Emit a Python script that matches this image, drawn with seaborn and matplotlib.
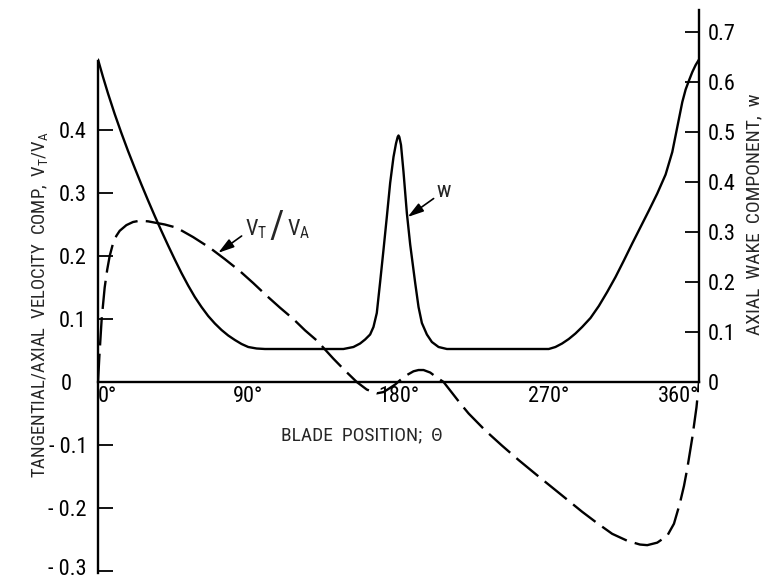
import os
import matplotlib
matplotlib.use("Agg")
import matplotlib.pyplot as plt
import matplotlib.font_manager as fm
import matplotlib.transforms as mtransforms
import seaborn as sns
import pandas as pd

# ---------------- data ----------------
theta_w = [0, 3, 6, 10, 14, 18, 22, 26, 30, 34, 38, 42, 46, 50, 54, 58, 62, 66,
           70, 74, 78, 82, 86, 90, 95, 100,
           147, 153, 157, 160, 163, 165, 167, 169, 171, 173, 175, 177, 178.5,
           179.5, 180, 180.5, 181.5, 183, 185, 187, 190, 192, 194, 197, 200, 204, 209,
           270, 274, 278, 282, 286, 290, 295, 300, 305, 310, 315, 320, 325, 330,
           335, 340, 344, 347, 350, 352, 354, 356, 358, 360]
w_vals = [0.645, 0.61, 0.577, 0.536, 0.498, 0.462, 0.428, 0.395, 0.363, 0.332,
          0.302, 0.273, 0.245, 0.218, 0.193, 0.17, 0.15, 0.132, 0.117, 0.104,
          0.093, 0.084, 0.076, 0.07, 0.067, 0.066,
          0.066, 0.07, 0.077, 0.085, 0.095, 0.11, 0.138, 0.20, 0.264, 0.33, 0.398,
          0.45, 0.477, 0.49, 0.493, 0.49, 0.474, 0.42, 0.338, 0.275, 0.198,
          0.15, 0.118, 0.095, 0.08, 0.07, 0.066,
          0.066, 0.07, 0.077, 0.086, 0.097, 0.11, 0.128, 0.152, 0.18, 0.21,
          0.243, 0.277, 0.31, 0.343, 0.377, 0.415, 0.46, 0.51, 0.56, 0.585,
          0.603, 0.62, 0.634, 0.645]

theta_v = [0, 0.8, 2.2, 4, 5.5, 7, 9, 11, 13, 17, 21, 25, 30, 40, 47, 57, 67,
           76, 85, 93, 101, 109, 117, 124, 131, 141, 148, 155, 161, 167, 171,
           174, 178, 181, 185, 189, 192, 195, 199, 203, 207, 212, 217, 222, 232,
           242, 252, 263, 277, 290, 299, 308, 317, 324.6, 329, 335, 341, 345,
           348.5, 351, 353, 356, 358.5, 360]
vt_va = [0.0, 0.04, 0.10, 0.15, 0.178, 0.2, 0.22, 0.232, 0.24, 0.249, 0.254,
         0.256, 0.255, 0.25, 0.245, 0.23, 0.213, 0.195, 0.176, 0.157, 0.137,
         0.118, 0.10, 0.082, 0.066, 0.037, 0.018, 0.0, -0.012, -0.018, -0.016,
         -0.011, -0.004, 0.003, 0.011, 0.017, 0.019, 0.019, 0.015, 0.007, 0.0,
         -0.017, -0.034, -0.05, -0.077, -0.101, -0.124, -0.148, -0.178, -0.206,
         -0.224, -0.241, -0.252, -0.258, -0.259, -0.255, -0.244, -0.225, -0.193,
         -0.165, -0.137, -0.088, -0.04, 0.0]

x_ticks = [0, 30, 60, 90, 120, 150, 180, 210, 240, 270, 300, 330, 360]
x_labels = ["0°", "", "", "90°", "", "", "180°", "", "", "270°", "", "", "360°"]
left_ticks = [-0.3, -0.2, -0.1, 0.0, 0.1, 0.2, 0.3, 0.4]
left_labels = ["- 0.3", "- 0.2", "- 0.1", "0", "0.1", "0.2", "0.3", "0.4"]
right_ticks = [0.0, 0.1, 0.2, 0.3, 0.4, 0.5, 0.6, 0.7]
right_labels = ["0", "0.1", "0.2", "0.3", "0.4", "0.5", "0.6", "0.7"]

# ---------------- style ----------------
sns.set_style("white")


def pick_font():
    cands = [("Liberation Sans Narrow", "normal"), ("Roboto Condensed", "normal"),
             ("DejaVu Sans Condensed", "normal"), ("Open Sans Condensed", "normal"),
             ("DejaVu Sans", "condensed"), ("Noto Sans", "condensed"),
             ("Roboto", "condensed"), ("Open Sans", "condensed")]
    for fam, st in cands:
        try:
            p = fm.findfont(fm.FontProperties(family=fam, stretch=st),
                            fallback_to_default=False)
        except Exception:
            continue
        base = os.path.basename(p).lower()
        if st == "normal":
            if fam.split()[0].lower() in base:
                return fam, st
        elif "condensed" in base or "narrow" in base:
            return fam, st
    return "DejaVu Sans", "normal"


fam, stretch = pick_font()
plt.rcParams["font.family"] = [fam, "DejaVu Sans"]
plt.rcParams["font.stretch"] = stretch
plt.rcParams["mathtext.fontset"] = "custom"
plt.rcParams["mathtext.rm"] = f"{fam}:stretch={stretch}"
plt.rcParams["mathtext.it"] = f"{fam}:stretch={stretch}"

fig = plt.figure(figsize=(7.63, 5.81), dpi=100)
ax = fig.add_axes([98 / 763, 8 / 581, 601 / 763, 563 / 581])
ax2 = ax.twinx()

df_v = pd.DataFrame({"theta": theta_v, "v": vt_va})
df_w = pd.DataFrame({"theta": theta_w, "w": w_vals})

sns.lineplot(data=df_v, x="theta", y="v", ax=ax, color="black", lw=1.7,
             linestyle=(0, (12, 3.5)), sort=False)
sns.lineplot(data=df_w, x="theta", y="w", ax=ax2, color="black", lw=1.7, sort=False)

ax.set_xlim(0, 360)
ax.set_ylim(-0.3032, 0.5905)
ax2.set_ylim(-0.382, 0.744)

# spines
for a in (ax, ax2):
    a.spines["top"].set_visible(False)
ax.spines["right"].set_visible(False)
ax2.spines["left"].set_visible(False)
ax2.spines["bottom"].set_visible(False)
ax.spines["bottom"].set_position(("data", 0))
for s in (ax.spines["left"], ax.spines["bottom"], ax2.spines["right"]):
    s.set_linewidth(1.7)
    s.set_color("black")
ax.spines["left"].set_bounds(-0.3032, 0.5095)
ax2.spines["right"].set_bounds(0, 0.744)

# ticks
ax.set_xticks(x_ticks, x_labels)
ax.tick_params(axis="x", direction="in", length=12, width=1.3, pad=3,
               labelsize=16, colors="black")
xl = ax.get_xticklabels()
xl[0].set_ha("left")
xl[-1].set_ha("right")

ax.set_yticks(left_ticks, left_labels)
ax.tick_params(axis="y", direction="in", length=11, width=1.3, pad=8,
               labelsize=16, colors="black")
ax2.set_yticks(right_ticks, right_labels)
ax2.tick_params(axis="y", direction="in", length=10, width=1.3, pad=6,
                labelsize=16, colors="black")
# the "0" on the left scale sits further left in the reference
ymaj = ax.yaxis.get_major_ticks()
zero_lab = ymaj[3].label1
zero_lab.set_transform(zero_lab.get_transform() +
                       mtransforms.ScaledTranslation(-15 / 100, 0, fig.dpi_scale_trans))
low_lab = ymaj[0].label1
low_lab.set_transform(low_lab.get_transform() +
                      mtransforms.ScaledTranslation(0, 4 / 100, fig.dpi_scale_trans))

# axis labels
ax.set_xlabel("BLADE  POSITION;  Θ", fontsize=14)
ax.xaxis.set_label_coords((362 - 98) / 601, (573 - 426) / 563)
ax.set_ylabel(r"TANGENTIAL/AXIAL  VELOCITY  COMP,  V$_{\rm T}$/V$_{\rm A}$",
              fontsize=13.5)
ax.yaxis.set_label_coords((50 - 98) / 601, (573 - 305) / 563)
ax2.set_ylabel("AXIAL  WAKE  COMPONENT,  w", fontsize=14)
ax2.yaxis.set_label_coords((745 - 98) / 601, (573 - 214) / 563)

# annotations
arrow = dict(arrowstyle="-|>,head_length=0.6,head_width=0.18", color="black",
             lw=1.2, relpos=(0, 0.3), shrinkA=0, shrinkB=0)
ax.annotate(r"V$_{\rm T}$", xy=(72, 0.205), xytext=(88, 0.243),
            ha="left", va="center", fontsize=16, arrowprops=arrow)
ax.text(107, 0.245, "/", fontsize=28, ha="center", va="center")
ax.text(113, 0.243, r"V$_{\rm A}$", fontsize=16, ha="left", va="center")

ax2.annotate("w", xy=(185.5, 0.33), xytext=(203, 0.38),
             ha="left", va="center", fontsize=16, arrowprops=arrow)

fig.savefig("out.png", dpi=100)
